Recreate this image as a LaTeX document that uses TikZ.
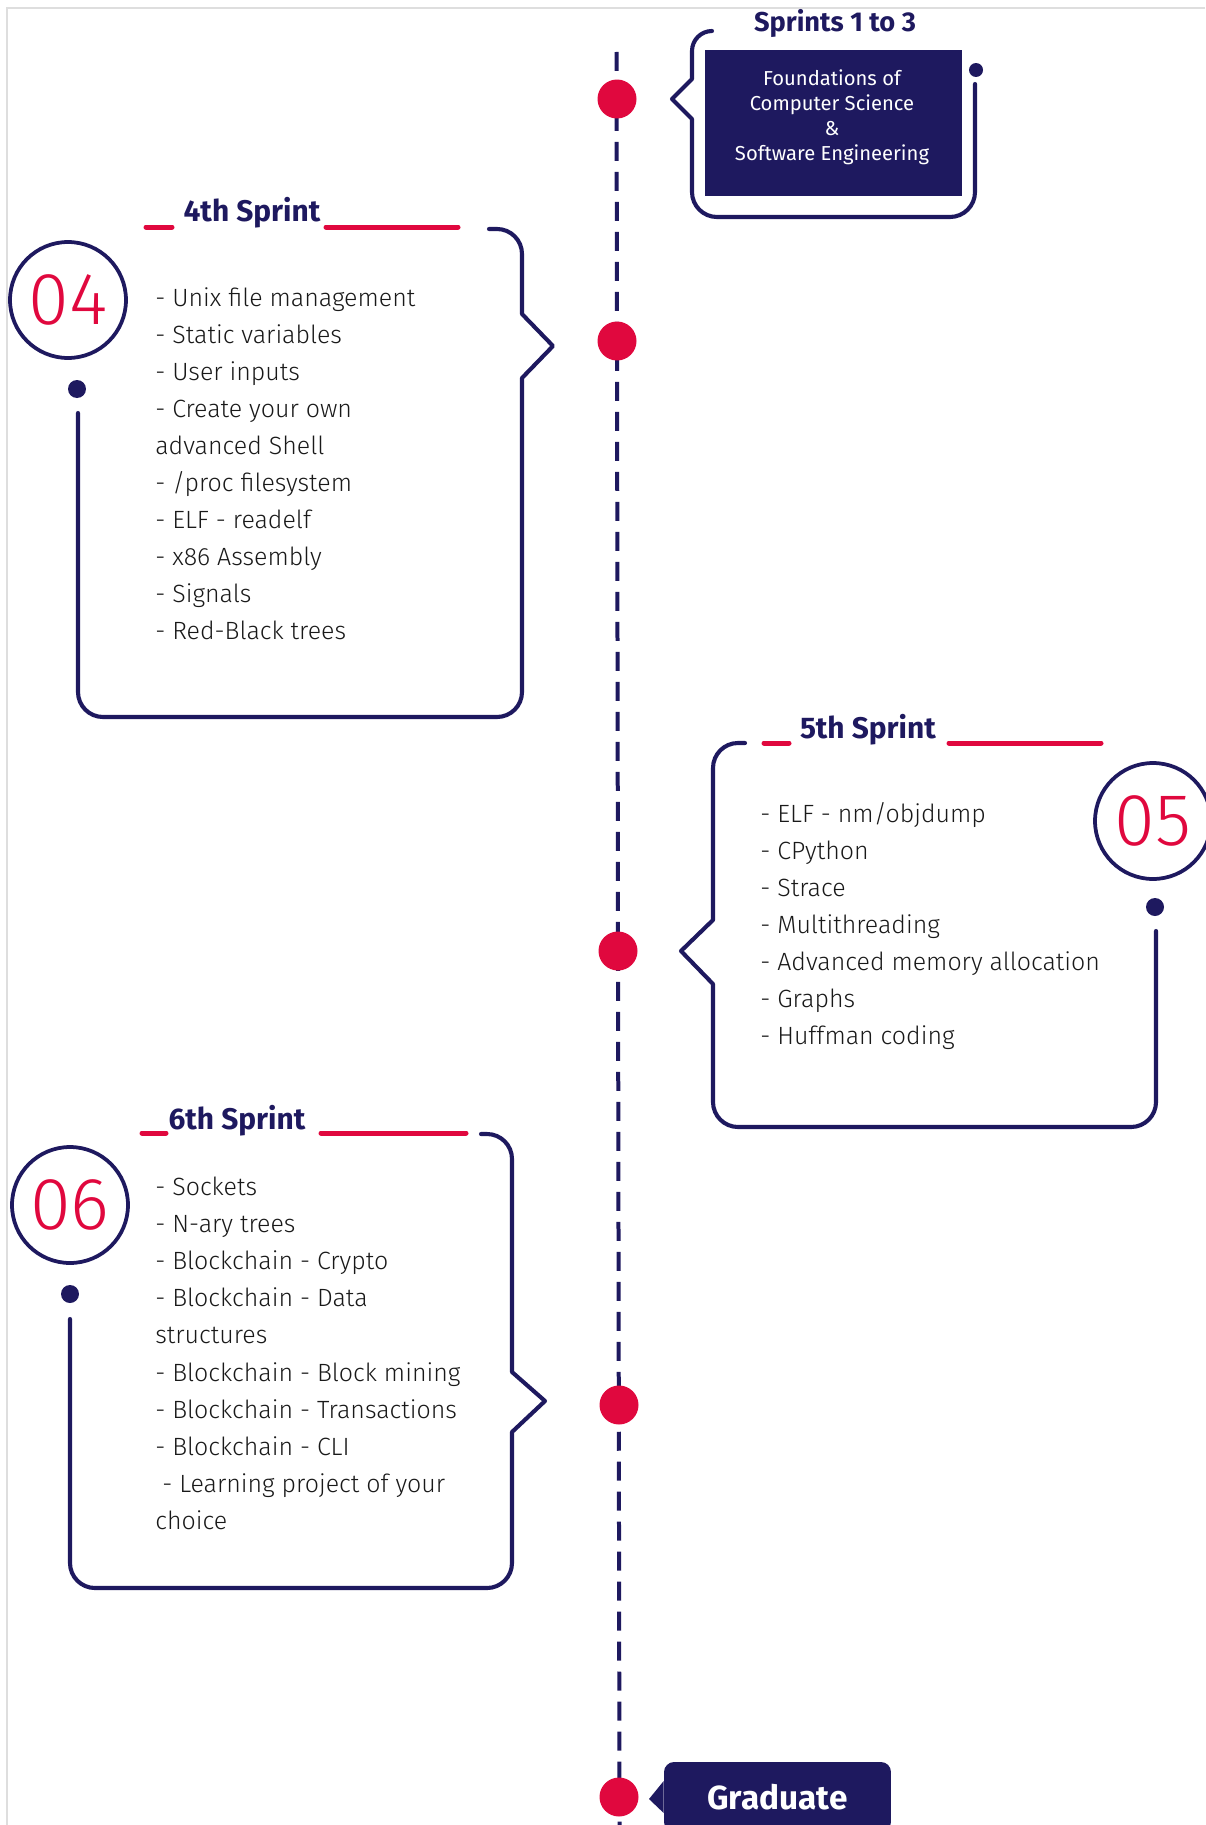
\documentclass[tikz,border=0pt]{standalone}
\usepackage{fontspec}
\setmainfont{Fira Sans}[UprightFont=* Light, BoldFont=* Bold]
\newfontfamily\regfont{Fira Sans}
\usetikzlibrary{positioning,calc}
\definecolor{SchoolNavy}{RGB}{30,25,95}
\definecolor{SchoolRed}{RGB}{224,8,62}
\definecolor{FrameGrey}{RGB}{222,222,222}

\begin{document}
\begin{tikzpicture}[x=0.02cm, y=-0.02cm, every node/.style={inner sep=0pt},
  bracket/.style={SchoolNavy, line width=0.082cm, line cap=round, line join=round},
  timeline/.style={SchoolNavy, line width=0.08cm, dash pattern=on 0.38cm off 0.22cm},
  reddot/.style={circle, fill=SchoolRed, minimum size=0.78cm},
  navydot/.style={circle, fill=SchoolNavy, minimum size=0.36cm},
  numring/.style={circle, draw=SchoolNavy, line width=0.075cm, minimum size=2.32cm,
    text=SchoolRed, font=\fontsize{42}{42}\selectfont},
  sprinthead/.style={text=SchoolNavy, font=\bfseries\fontsize{17}{20}\selectfont},
  redbar/.style={SchoolRed, line width=0.1cm, line cap=round},
  listitem/.style={anchor=base west, text=black!90, font=\fontsize{14.2}{17}\selectfont}]
  \useasboundingbox (0,0) rectangle (1205,1825);
  \draw[FrameGrey, line width=0.03cm] (1205,8) -- (7,8) -- (7,1825);

  % timeline
  \coordinate (tltop) at (616.5,52);
  \coordinate (tlbot) at (619.5,1825);
  \draw[timeline] (tltop) -- (tlbot);
  \node[reddot] (d1) at (617,99) {};
  \node[reddot] (d2) at (617,341) {};
  \node[reddot] (d3) at (618,951) {};
  \node[reddot] (d4) at (619,1405) {};
  \node[reddot] (d5) at (619,1797) {};

  % sprints 1 to 3
  \node[text=SchoolNavy, font=\bfseries\fontsize{15.5}{18}\selectfont] (h1) at (835,23) {Sprints 1 to 3};
  \node[fill=SchoolNavy, minimum width=5.14cm, minimum height=2.92cm] (found) at (833.5,123) {};
  \node[text=white, align=center, font=\regfont\fontsize{11.5}{14.2}\selectfont] (foundtxt) at (832,117)
    {Foundations of\\Computer Science\\\&\\Software Engineering};
  \draw[bracket, rounded corners=0.4cm] (712,31) -- (692,31) -- (692,79)
    [sharp corners] (692,79) -- (672,99) -- (692,119)
    [rounded corners=0.5cm] (692,119) -- (692,217) -- (975,217) -- (975,84);
  \node[navydot, minimum size=0.28cm] (n1) at (976,70) {};

  % 4th sprint
  \node[sprinthead] (h4) at (252,213) {4th Sprint};
  \draw[redbar] (146,227) -- (172,227);
  \draw[redbar] (326,227) -- (458,227);
  \node[numring] (c4) at (68,300) {04};
  \node[navydot] (n4) at (77,389) {};
  \draw[bracket, rounded corners=0.5cm] (489,229) -- (522,229) -- (522,314)
    [sharp corners] (522,314) -- (553,346) -- (522,378)
    [rounded corners=0.5cm] (522,378) -- (522,717) -- (78,717) -- (78,413);
  \foreach \txt [count=\i from 0] in {- Unix file management, - Static variables,
      - User inputs, - Create your own, advanced Shell, - /proc filesystem,
      - ELF - readelf, - x86 Assembly, - Signals, - Red-Black trees}
    \node[listitem] (a\i) at (155,306+37.1*\i) {\txt};

  % 5th sprint
  \node[sprinthead] (h5) at (868,730) {5th Sprint};
  \draw[redbar] (764,743) -- (789,743);
  \draw[redbar] (949,743) -- (1101,743);
  \node[numring] (c5) at (1153,821) {05};
  \node[navydot] (n5) at (1155,907) {};
  \draw[bracket, rounded corners=0.5cm] (745,743) -- (713,743) -- (713,920)
    [sharp corners] (713,920) -- (681,951) -- (713,984)
    [rounded corners=0.5cm] (713,984) -- (713,1127) -- (1156,1127) -- (1156,931);
  \foreach \txt [count=\i from 0] in {- ELF - nm/objdump, - CPython, - Strace,
      - Multithreading, - Advanced memory allocation, - Graphs, - Huffman coding}
    \node[listitem] (b\i) at (760,822+37*\i) {\txt};

  % 6th sprint
  \node[sprinthead] (h6) at (237,1121) {6th Sprint};
  \draw[redbar] (142,1133) -- (166,1133);
  \draw[redbar] (321,1133) -- (466,1133);
  \node[numring] (c6) at (70,1205) {06};
  \node[navydot] (n6) at (70,1294) {};
  \draw[bracket, rounded corners=0.5cm] (481,1134) -- (512,1134) -- (512,1372)
    [sharp corners] (512,1372) -- (545,1401) -- (512,1432)
    [rounded corners=0.5cm] (512,1432) -- (512,1588) -- (70,1588) -- (70,1319);
  \foreach \txt [count=\i from 0] in {- Sockets, - N-ary trees, - Blockchain - Crypto,
      - Blockchain - Data, structures, - Blockchain - Block mining,
      - Blockchain - Transactions, - Blockchain - CLI, \ - Learning project of your, choice}
    \node[listitem] (e\i) at (155,1195+37.2*\i) {\txt};

  % graduate
  \node[fill=SchoolNavy, rounded corners=0.2cm, minimum width=4.54cm, minimum height=1.4cm,
    text=white, font=\bfseries\fontsize{19}{22}\selectfont] (grad) at (777.5,1797) {Graduate};
  \coordinate (gtip) at (649,1799);
  \fill[SchoolNavy] ([yshift=0.32cm]grad.west) -- (gtip) -- ([yshift=-0.32cm]grad.west) -- cycle;
\end{tikzpicture}
\end{document}
